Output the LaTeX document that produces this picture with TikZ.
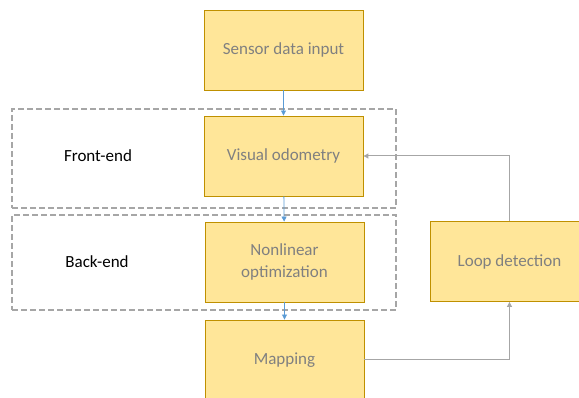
\documentclass[tikz,border=0pt]{standalone}
\usepackage{fontspec}
\setmainfont{Carlito}
\usetikzlibrary{arrows.meta}
\definecolor{boxfill}{HTML}{FFE699}
\definecolor{boxline}{HTML}{BF9000}
\definecolor{boxtext}{HTML}{808080}
\definecolor{flowblue}{HTML}{5B9BD5}
\definecolor{linkgray}{HTML}{A6A6A6}
\tikzset{
  stage/.style={draw=boxline, line width=0.9pt, fill=boxfill, text=boxtext,
    minimum width=159pt, minimum height=80pt, inner sep=0pt, align=center,
    font=\fontsize{17}{21.5}\selectfont},
  group/.style={draw=linkgray, line width=1.3pt, dash pattern=on 6pt off 3pt,
    inner sep=0pt},
  grouplabel/.style={font=\fontsize{17}{21.5}\selectfont, text=black},
  flow/.style={draw=flowblue, line width=0.8pt, -{Triangle[length=5pt,width=5pt]}},
  feedback/.style={draw=linkgray, line width=1pt, -{Triangle[length=5pt,width=5pt]}}
}
\begin{document}
\begin{tikzpicture}[x=1pt,y=-1pt]
			\useasboundingbox (0,0) rectangle (579,398);
			
			% dashed groups
			\node[group, minimum width=384pt, minimum height=99pt] (frontgrp) at (204,158.5) {};
			\node[group, minimum width=384pt, minimum height=95pt] (backgrp) at (204,262.5) {};
			\node[grouplabel] (frontlbl) at (98,156) {Front-end};
			\node[grouplabel] (backlbl) at (97,262) {Back-end};
			
			% stages
			\node[stage] (sensor) at (283.5,50) {Sensor data input};
			\node[stage] (vo) at (283.5,156) {Visual odometry};
			\node[stage] (nlo) at (284.5,262) {Nonlinear\\optimization};
			\node[stage] (mapping) at (284.5,360) {Mapping};
			\node[stage] (loop) at (509.5,261.5) {Loop detection};
			
			% connectors
			\draw[flow] (sensor) -- (vo);
			\draw[flow] (vo) -- (nlo);
			\draw[flow] (nlo) -- (mapping);
			\draw[feedback] (mapping.east) -| (loop.south);
			\draw[feedback] (loop.north) |- (vo.east);
			
\end{tikzpicture}
\end{document}
